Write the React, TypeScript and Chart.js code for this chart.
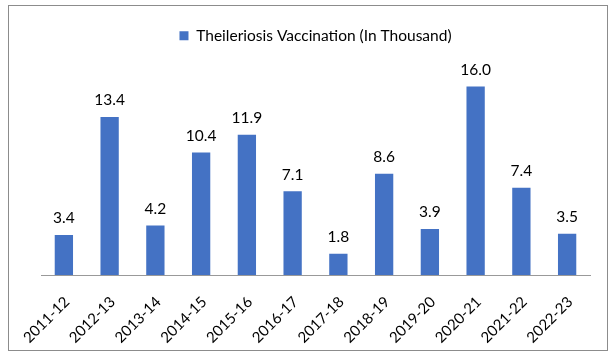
import React, { useEffect, useRef } from "react";
import { Chart, registerables } from "chart.js";

Chart.register(...registerables);

const categories = ["2011-12", "2012-13", "2013-14", "2014-15", "2015-16", "2016-17", "2017-18", "2018-19", "2019-20", "2020-21", "2021-22", "2022-23"];
const vaccination = [3.4, 13.4, 4.2, 10.4, 11.9, 7.1, 1.8, 8.6, 3.9, 16.0, 7.4, 3.5];
const seriesLabel = "Theileriosis Vaccination (In Thousand)";
const FONT = "Lato, 'Open Sans', sans-serif";

const valueLabels = {
  id: "valueLabels",
  afterDatasetsDraw(chart: any) {
    const ctx = chart.ctx;
    const meta = chart.getDatasetMeta(0);
    ctx.save();
    ctx.font = `15.5px ${FONT}`;
    ctx.fillStyle = "#000";
    ctx.textAlign = "center";
    ctx.textBaseline = "bottom";
    meta.data.forEach((bar: any, i: number) => {
      const v = chart.data.datasets[0].data[i] as number;
      ctx.fillText(v.toFixed(1), bar.x, bar.y - 9);
    });
    ctx.restore();
  },
};

export default function App() {
  const ref = useRef<HTMLCanvasElement>(null);
  useEffect(() => {
    if (!ref.current) return;
    const chart = new Chart(ref.current, {
      type: "bar",
      data: {
        labels: categories,
        datasets: [
          {
            label: seriesLabel,
            data: vaccination,
            backgroundColor: "#4472C4",
            barPercentage: 0.4,
            categoryPercentage: 1,
          },
        ],
      },
      options: {
        animation: false,
        responsive: false,
        maintainAspectRatio: false,
        layout: { padding: { left: 41, right: 22, top: 6, bottom: 0 } },
        plugins: {
          legend: {
            display: true,
            position: "top",
            labels: {
              boxWidth: 9,
              boxHeight: 9,
              color: "#000",
              font: { family: FONT, size: 15.5 },
              padding: 22,
            },
          },
          tooltip: { enabled: false },
        },
        scales: {
          x: {
            grid: { display: false, drawTicks: false },
            border: { display: true, color: "#999", width: 1 },
            ticks: {
              color: "#000",
              font: { family: FONT, size: 15 },
              maxRotation: 45,
              minRotation: 45,
              padding: 18,
              labelOffset: 3,
              autoSkip: false,
            },
            afterFit: (scale: any) => {
              scale.height = 81;
            },
          },
          y: {
            display: false,
            min: 0,
            max: 18.8,
          },
        },
      },
      plugins: [valueLabels],
    });
    return () => chart.destroy();
  }, []);

  return (
    <div style={{ position: "fixed", left: 0, top: 0, width: 612, height: 356, background: "#fff" }}>
      <div
        style={{
          position: "absolute",
          left: 8,
          top: 5,
          width: 598,
          height: 344,
          border: "1.5px solid #8c8c8c",
        }}
      />
      <canvas ref={ref} width={612} height={356} style={{ position: "absolute", left: 0, top: 0 }} />
    </div>
  );
}
